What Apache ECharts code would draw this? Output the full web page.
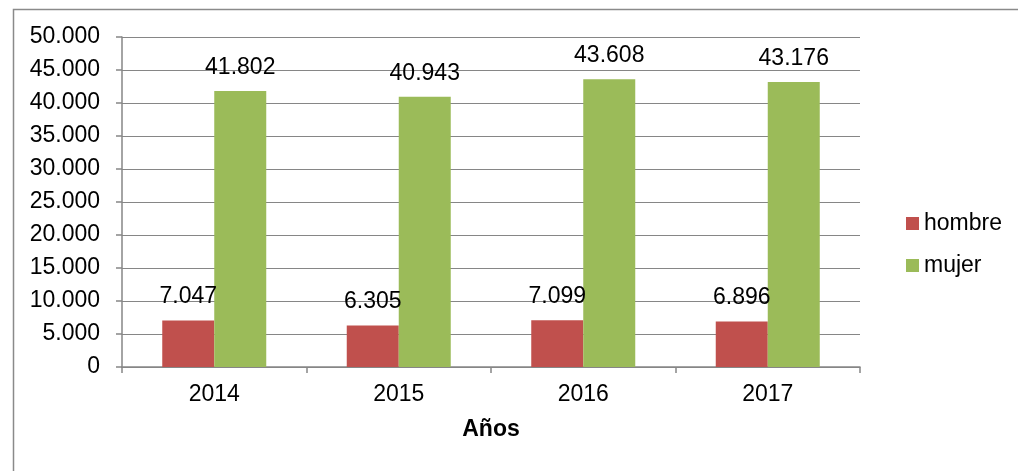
<!DOCTYPE html>
<html>
<head>
<meta charset="utf-8">
<script src="https://cdn.jsdelivr.net/npm/echarts@6/dist/echarts.min.js"></script>
<style>
html,body{margin:0;padding:0;background:#fff;}
#c{width:1018px;height:471px;}
</style>
</head>
<body>
<div id="c"></div>
<script>
const categories = ['2014', '2015', '2016', '2017'];
const hombre = [7047, 6305, 7099, 6896];
const mujer = [41802, 40943, 43608, 43176];
const seriesNames = ['hombre', 'mujer'];
const xAxisTitle = 'Años';

function fmt(v) {
  return String(Math.round(v)).replace(/\B(?=(\d{3})+(?!\d))/g, '.');
}

const FONT = '"Liberation Sans", Arial, sans-serif';
const FS = 23;
const chart = echarts.init(document.getElementById('c'), null, {renderer: 'canvas'});
const labelCfg = {
  show: true, position: 'top', distance: 12,
  color: '#000', fontSize: FS, fontFamily: FONT,
  formatter: p => fmt(p.value)
};
chart.setOption({
  animation: false,
  textStyle: {fontFamily: FONT},
  graphic: [{
    type: 'rect', left: 11, top: 7, silent: true,
    shape: {width: 1200, height: 600},
    style: {fill: 'none', stroke: '#8a8a8a', lineWidth: 1.5}
  }],
  grid: {left: 122, right: 158, top: 37, bottom: 104},
  legend: {
    orient: 'vertical', left: 901, top: 207, itemGap: 19,
    itemWidth: 13, itemHeight: 13, icon: 'rect',
    textStyle: {color: '#000', fontSize: FS, fontFamily: FONT},
    data: seriesNames
  },
  xAxis: {
    type: 'category', data: categories,
    name: xAxisTitle, nameLocation: 'middle', nameGap: 51,
    nameTextStyle: {color: '#000', fontSize: FS, fontWeight: 'bold', fontFamily: FONT},
    axisLine: {lineStyle: {color: '#868686', width: 1.5}},
    axisTick: {show: true, length: 6, lineStyle: {color: '#868686', width: 1.5}},
    axisLabel: {color: '#000', fontSize: FS, fontFamily: FONT, margin: 16}
  },
  yAxis: {
    type: 'value', min: 0, max: 50000, interval: 5000,
    axisLine: {show: true, lineStyle: {color: '#868686', width: 1.5}},
    axisTick: {show: true, length: 6, lineStyle: {color: '#868686', width: 1.5}},
    splitLine: {lineStyle: {color: '#868686', width: 1.2}},
    axisLabel: {color: '#000', fontSize: FS, fontFamily: FONT, margin: 22, formatter: v => fmt(v)}
  },
  series: [
    {name: seriesNames[0], type: 'bar', data: hombre, barWidth: 52, barGap: '0%',
     itemStyle: {color: '#C0504D'}, label: labelCfg},
    {name: seriesNames[1], type: 'bar', data: mujer, barWidth: 52, barGap: '0%',
     itemStyle: {color: '#9BBB59'}, label: labelCfg}
  ]
});
</script>
</body>
</html>
